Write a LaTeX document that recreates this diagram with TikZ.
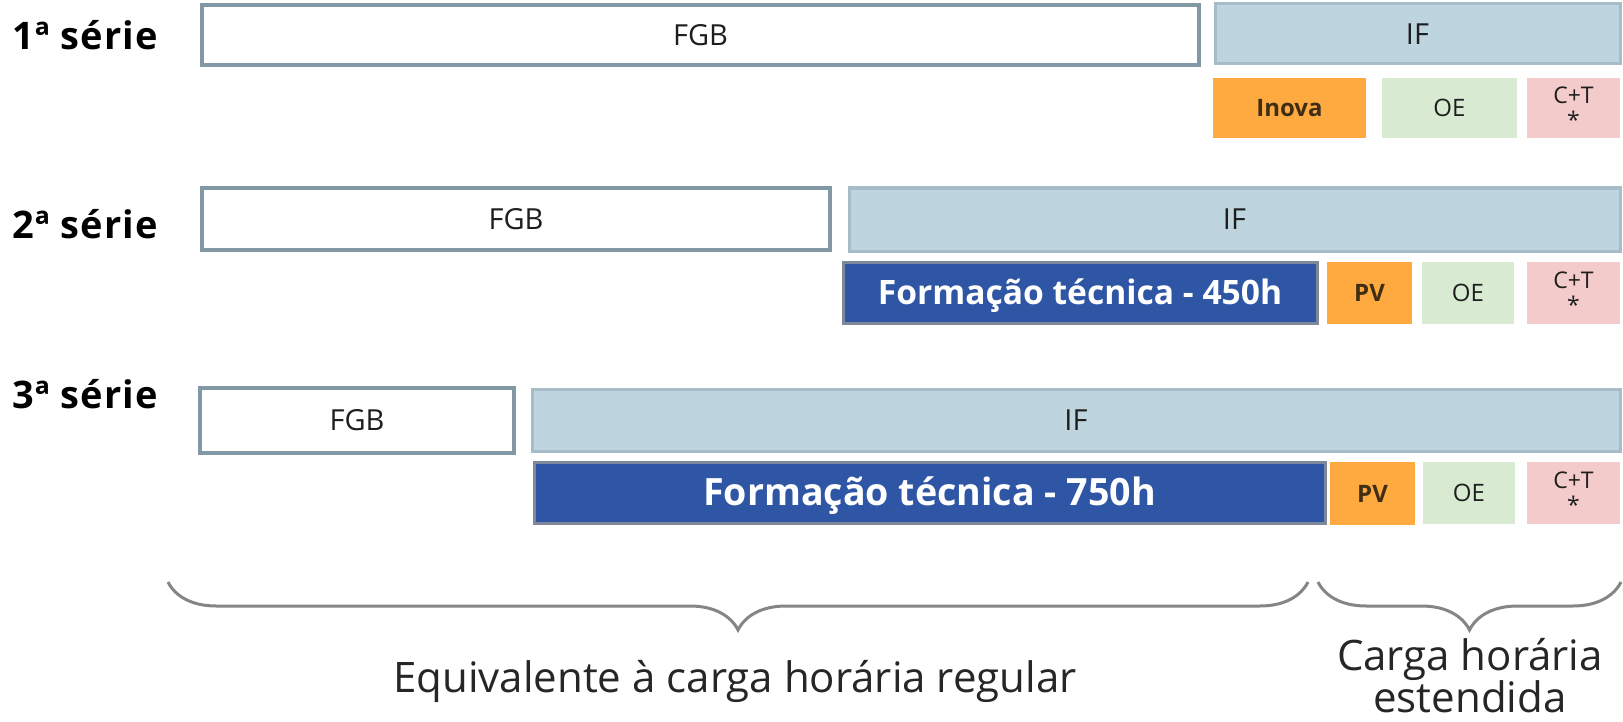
\documentclass[tikz,border=0pt]{standalone}
\usepackage{fontspec}
\setmainfont{Open Sans}
\newfontfamily\seriefont[LetterSpace=3]{Open Sans}
\usetikzlibrary{decorations.pathreplacing}
\definecolor{bordaFGB}{HTML}{8298A4}
\definecolor{fundoIF}{HTML}{BED5E0}
\definecolor{bordaIF}{HTML}{A7BCC7}
\definecolor{azulFT}{HTML}{2E56A5}
\definecolor{bordaFT}{HTML}{7E8898}
\definecolor{laranjaPV}{HTML}{FFAA40}
\definecolor{verdeOE}{HTML}{D9EAD3}
\definecolor{rosaCT}{HTML}{F3CBCB}
\definecolor{cinzaChave}{HTML}{858585}
\definecolor{textoCaixa}{HTML}{1E1E1E}
\definecolor{textoPV}{HTML}{3F2E14}

\begin{document}
\begin{tikzpicture}[x=0.5pt,y=-0.5pt,
    caixa/.style={anchor=north west,inner sep=0pt,outer sep=0pt,text depth=0pt,text=textoCaixa},
    fgb/.style={caixa,draw=bordaFGB,line width=2pt,fill=white,text height=10.4pt,font=\fontsize{14.5}{17}\selectfont},
    itf/.style={caixa,draw=bordaIF,line width=1.5pt,fill=fundoIF,text height=10.4pt,font=\fontsize{14.5}{17}\selectfont},
    tecnica/.style={caixa,draw=bordaFT,line width=1.5pt,fill=azulFT,text=white},
    pequena/.style={caixa,text height=8.6pt,font=\fontsize{12}{14}\selectfont},
    laranja/.style={pequena,fill=laranjaPV,text=textoPV,font=\bfseries\fontsize{12}{14}\selectfont},
    ct/.style={caixa,fill=rosaCT,text height=,text depth=,align=center,font=\fontsize{11.5}{12.5}\selectfont},
    serie/.style={anchor=west,inner sep=0pt,font=\seriefont\bfseries\fontsize{19}{22}\selectfont},
    chave/.style={draw=cinzaChave,line width=1.5pt,decorate,decoration={brace,amplitude=24pt}},
    legenda/.style={anchor=base,inner sep=0pt,text=black!85,font=\fontsize{21}{25}\selectfont}]
\useasboundingbox (0,0) rectangle (1623,722);

\node[serie] (s1) at (12,35) {1ª série};
\node[serie] (s2) at (12,224) {2ª série};
\node[serie] (s3) at (12,394) {3ª série};

\node[fgb, minimum width=498.5pt, minimum height=30pt] (fgb1) at (202,5) {FGB};
\node[itf, minimum width=202.5pt, minimum height=30pt] (if1) at (1215,4) {IF};
\node[laranja, minimum width=76.5pt, minimum height=30pt] (inova1) at (1213,78) {Inova};
\node[pequena, fill=verdeOE, minimum width=67.5pt, minimum height=30pt] (oe1) at (1382,78) {OE};
\node[ct, minimum width=46.5pt, minimum height=30pt] (ct1) at (1527,78) {C+T\\*};

\node[fgb, minimum width=314pt, minimum height=31pt] (fgb2) at (202,188) {FGB};
\node[itf, minimum width=385.5pt, minimum height=31.5pt] (if2) at (849,188) {IF};
\node[tecnica, minimum width=237pt, minimum height=30.5pt, text height=12pt, font=\bfseries\fontsize{16.8}{19}\selectfont] (ft2) at (843,262) {Formação técnica - 450h};
\node[laranja, minimum width=42.5pt, minimum height=31pt] (pv2) at (1327,262) {PV};
\node[pequena, fill=verdeOE, minimum width=46pt, minimum height=31pt] (oe2) at (1422,262) {OE};
\node[ct, minimum width=46.5pt, minimum height=31pt] (ct2) at (1527,262) {C+T\\*};

\node[fgb, minimum width=157pt, minimum height=32.5pt] (fgb3) at (200,388) {FGB};
\node[itf, minimum width=544pt, minimum height=31pt] (if3) at (532,389) {IF};
\node[tecnica, minimum width=395.5pt, minimum height=30.5pt, text height=13.4pt, font=\bfseries\fontsize{18.8}{21}\selectfont] (ft3) at (534,462) {Formação técnica - 750h};
\node[laranja, minimum width=42.5pt, minimum height=31.5pt] (pv3) at (1330,462) {PV};
\node[pequena, fill=verdeOE, minimum width=46pt, minimum height=31pt] (oe3) at (1423,462) {OE};
\node[ct, minimum width=46.5pt, minimum height=31pt] (ct3) at (1527,462) {C+T\\*};

\coordinate (regularD) at (1308,582);
\coordinate (regularE) at (168,582);
\coordinate (estendidaD) at (1621,582);
\coordinate (estendidaE) at (1318,582);
\draw[chave] (regularD) -- (regularE);
\draw[chave] (estendidaD) -- (estendidaE);

\node[legenda] (regular) at (735,692) {Equivalente à carga horária regular};
\node[legenda] (estendida1) at (1470,670) {Carga horária};
\node[legenda] (estendida2) at (1470,712) {estendida};
\end{tikzpicture}
\end{document}
